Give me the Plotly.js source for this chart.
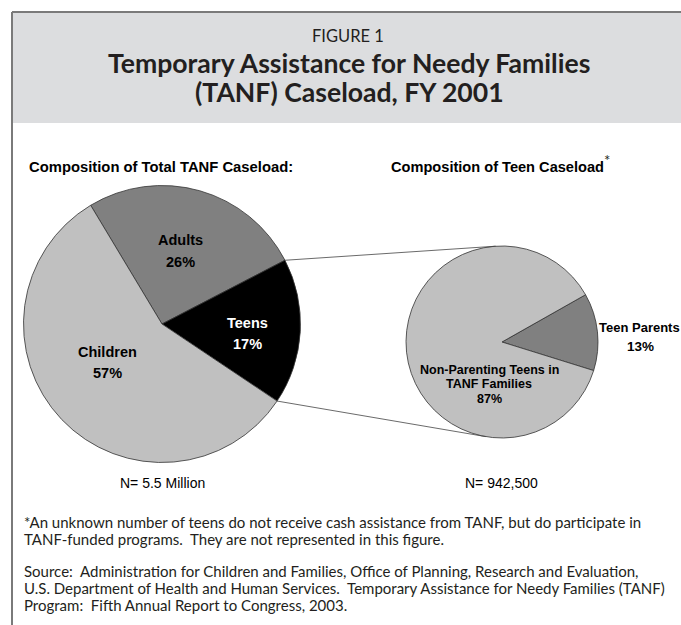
<!DOCTYPE html>
<html>
<head>
<meta charset="utf-8">
<script src="https://cdn.plot.ly/plotly-3.0.1.min.js"></script>
<style>html,body{margin:0;padding:0;background:#fff;}#chart{width:681px;height:625px;}</style>
</head>
<body>
<div id="chart"></div>
<script>
// ---- Data ----
const totalLabels = ['Adults', 'Teens', 'Children'];
const totalValues = [26, 17, 57];
const totalColors = ['#808080', '#000000', '#c0c0c0'];

const teenLabels = ['Teen Parents', 'Non-Parenting Teens in TANF Families'];
const teenLabelLines = [['Teen Parents'], ['Non-Parenting Teens in', 'TANF Families']];
const teenValues = [13, 87];
const teenColors = ['#808080', '#c0c0c0'];

const figureLabel = 'FIGURE 1';
const titleLines = ['Temporary Assistance for Needy Families', '(TANF) Caseload, FY 2001'];
const leftTitle = 'Composition of Total TANF Caseload:';
const rightTitle = 'Composition of Teen Caseload';
const leftN = 'N= 5.5 Million';
const rightN = 'N= 942,500';
const notes = [
  '*An unknown number of teens do not receive cash assistance from TANF, but do participate in',
  'TANF-funded programs.\u00a0 They are not represented in this figure.'
];
const sources = [
  'Source:\u00a0 Administration for Children and Families, Office of Planning, Research and Evaluation,',
  'U.S. Department of Health and Human Services.\u00a0 Temporary Assistance for Needy Families (TANF)',
  'Program:\u00a0 Fifth Annual Report to Congress, 2003.'
];

// ---- Layout geometry (pixels) ----
const W = 681, H = 625;
const fx = x => x / W;
const fy = y => 1 - y / H;

const L = {cx: 162, cy: 324, r: 138.5, rot: -31};
const R = {cx: 502, cy: 342, r: 96, rot: 60.5};

function domainOf(p) {
  return {x: [fx(p.cx - p.r), fx(p.cx + p.r)], y: [fy(p.cy + p.r), fy(p.cy - p.r)]};
}
function boundaryAngles(values, rot) {
  const tot = values.reduce((a, b) => a + b, 0);
  const out = [rot];
  let c = 0;
  values.forEach(v => { c += v; out.push(rot + 360 * c / tot); });
  return out;
}
function pt(p, a) {
  const t = a * Math.PI / 180;
  return [p.cx + p.r * Math.sin(t), p.cy - p.r * Math.cos(t)];
}
function tangents(P, C) {
  const vx = P[0] - C.cx, vy = P[1] - C.cy;
  const d = Math.hypot(vx, vy);
  const phi = Math.atan2(vy, vx);
  const al = Math.acos(C.r / d);
  const a = [C.cx + C.r * Math.cos(phi + al), C.cy + C.r * Math.sin(phi + al)];
  const b = [C.cx + C.r * Math.cos(phi - al), C.cy + C.r * Math.sin(phi - al)];
  return a[1] < b[1] ? {top: a, bottom: b} : {top: b, bottom: a};
}

const traces = [
  {
    type: 'pie', labels: totalLabels, values: totalValues, sort: false,
    direction: 'clockwise', rotation: L.rot, domain: domainOf(L),
    marker: {colors: totalColors, line: {color: '#333333', width: 0.8}},
    textinfo: 'none', hoverinfo: 'skip', showlegend: false
  },
  {
    type: 'pie', labels: teenLabels, values: teenValues, sort: false,
    direction: 'clockwise', rotation: R.rot, domain: domainOf(R),
    marker: {colors: teenColors, line: {color: '#333333', width: 0.8}},
    textinfo: 'none', hoverinfo: 'skip', showlegend: false
  }
];

// connector lines from Teens slice edges to the teen pie
const angL = boundaryAngles(totalValues, L.rot);
const teenIdx = totalLabels.indexOf('Teens');
const pA = pt(L, angL[teenIdx]);
const pB = pt(L, angL[teenIdx + 1]);
const tA = tangents(pA, R).top;
const tB = tangents(pB, R).bottom;

const borderColor = '#7a7a7a';
const shapes = [
  {type: 'rect', xref: 'paper', yref: 'paper', x0: fx(12), x1: 1, y0: fy(123), y1: fy(12),
   fillcolor: '#dcdddf', line: {width: 0}, layer: 'below'},
  {type: 'line', xref: 'paper', yref: 'paper', x0: fx(12), x1: 1, y0: fy(12), y1: fy(12),
   line: {color: borderColor, width: 2}},
  {type: 'line', xref: 'paper', yref: 'paper', x0: fx(12), x1: fx(12), y0: fy(12), y1: 0,
   line: {color: borderColor, width: 2}},
  {type: 'line', xref: 'paper', yref: 'paper', x0: fx(pA[0]), y0: fy(pA[1]), x1: fx(tA[0]), y1: fy(tA[1]),
   line: {color: '#444444', width: 0.8}},
  {type: 'line', xref: 'paper', yref: 'paper', x0: fx(pB[0]), y0: fy(pB[1]), x1: fx(tB[0]), y1: fy(tB[1]),
   line: {color: '#444444', width: 0.8}}
];

const sans = 'Liberation Sans, Arial, sans-serif';
const hum = 'Lato, Open Sans, sans-serif';
function ann(text, x, y, opts) {
  return Object.assign({
    text: text, x: fx(x), y: fy(y), xref: 'paper', yref: 'paper', showarrow: false,
    xanchor: 'center', yanchor: 'middle',
    font: {family: sans, size: 14.5, color: '#000'}
  }, opts || {});
}
const f = (size, color, family) => ({font: {family: family || sans, size: size, color: color || '#000'}});

const bold = s => '<b>' + s + '</b>';
const annotations = [
  ann(figureLabel, 348, 36, f(16.5, '#231f20', hum)),
  ann(bold(titleLines[0]), 349, 63, f(26.6, '#231f20', hum)),
  ann(bold(titleLines[1]), 349, 92, f(26.6, '#231f20', hum)),
  ann(bold(leftTitle), 161, 167, f(14.8)),
  ann(bold(rightTitle), 497, 167, f(14.6)),
  ann('*', 602, 160, Object.assign({xanchor: 'left'}, f(15, '#231f20', hum))),
  ann(leftN, 162, 483, f(14)),
  ann(rightN, 502, 483, f(14)),
  // left pie labels
  ann(bold(totalLabels[0]), 180, 240), ann(bold(totalValues[0] + '%'), 180, 262),
  ann(bold(totalLabels[1]), 247, 323, f(14.5, '#fff')),
  ann(bold(totalValues[1] + '%'), 247, 344, f(14.5, '#fff')),
  ann(bold(totalLabels[2]), 107, 352), ann(bold(totalValues[2] + '%'), 107, 373),
  // right pie labels
  ann(bold(teenLabelLines[0][0]), 639, 327, f(13)), ann(bold(teenValues[0] + '%'), 640, 346, f(13.5)),
  ann(bold(teenLabelLines[1][0]), 489, 370, f(12.5)),
  ann(bold(teenLabelLines[1][1]), 489, 384, f(12.5)),
  ann(bold(teenValues[1] + '%'), 489, 399, f(12.5))
];
const noteY = [522, 539];
notes.forEach((t, i) => annotations.push(ann(t, 22, noteY[i], Object.assign({xanchor: 'left'}, f(15, '#231f20', hum)))));
const srcY = [571, 588, 605];
sources.forEach((t, i) => annotations.push(ann(t, 22, srcY[i], Object.assign({xanchor: 'left'}, f(15, '#231f20', hum)))));

const layout = {
  width: W, height: H, margin: {l: 0, r: 0, t: 0, b: 0},
  paper_bgcolor: '#ffffff', plot_bgcolor: '#ffffff',
  showlegend: false, shapes: shapes, annotations: annotations
};
Plotly.newPlot('chart', traces, layout, {displayModeBar: false, staticPlot: true});
</script>
</body>
</html>
